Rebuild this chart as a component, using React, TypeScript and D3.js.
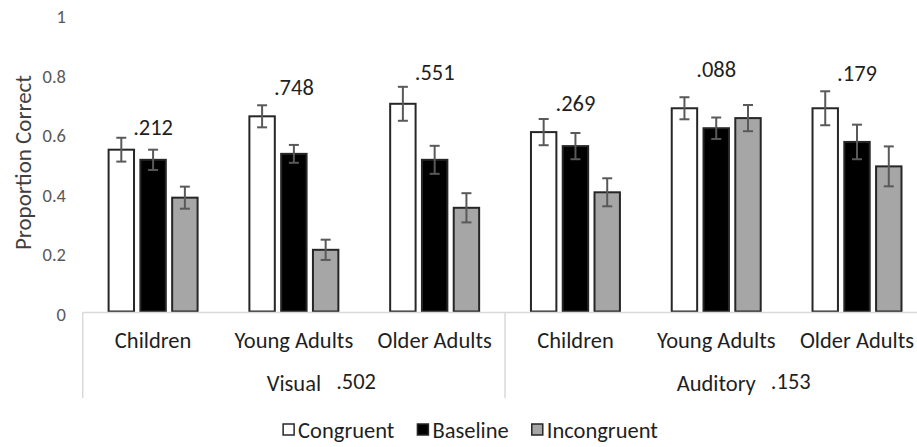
import React, { useEffect, useRef } from "react";
import * as d3 from "d3";

// Age groups within each modality, left to right
const ageGroups = ["Children", "Young Adults", "Older Adults"];
const modalities = ["Visual", "Auditory"];
const modalityP = [".502", ".153"];

// Condition means per group (Visual: C, YA, OA, then Auditory: C, YA, OA)
const congruent = [0.543, 0.655, 0.697, 0.602, 0.682, 0.682];
const baseline = [0.509, 0.529, 0.509, 0.555, 0.615, 0.569];
const incongruent = [0.382, 0.207, 0.348, 0.4, 0.649, 0.487];

// Standard errors
const congruentErr = [0.04, 0.037, 0.057, 0.044, 0.037, 0.057];
const baselineErr = [0.034, 0.03, 0.047, 0.044, 0.036, 0.058];
const incongruentErr = [0.037, 0.034, 0.049, 0.047, 0.044, 0.067];

// p-values shown above each group, and the proportion level they sit at
const groupP = [".212", ".748", ".551", ".269", ".088", ".179"];
const groupPLevel = [0.617, 0.752, 0.802, 0.698, 0.812, 0.799];

const conditions = ["Congruent", "Baseline", "Incongruent"];
const yTicks = [0, 0.2, 0.4, 0.6, 0.8, 1];

const W = 917;
const H = 447;
const FONT = "Carlito, Calibri, Lato, sans-serif";
const TEXT = "#1f1f1f";
const FS = 22.5;

export default function App() {
  const ref = useRef<SVGSVGElement | null>(null);

  useEffect(() => {
    const svg = d3.select(ref.current);
    svg.selectAll("*").remove();

    const means = [congruent, baseline, incongruent];
    const errs = [congruentErr, baselineErr, incongruentErr];
    const fills = ["#ffffff", "#000000", "#a6a6a6"];

    const groups = modalities.flatMap((m) => ageGroups.map((a) => `${m}|${a}`));

    const plotLeft = 82.7;
    const plotRight = 927.4;
    const y0 = 311.5;
    const y1 = 13.5;

    const y = d3.scaleLinear().domain([0, 1]).range([y0, y1]);
    const x0 = d3
      .scaleBand<string>()
      .domain(groups)
      .range([plotLeft, plotRight])
      .paddingInner(0.368)
      .paddingOuter(0.184);
    const x1 = d3
      .scaleBand<string>()
      .domain(conditions)
      .range([0, x0.bandwidth()])
      .paddingInner(0.2)
      .paddingOuter(0);

    // Y tick labels (no gridlines)
    svg
      .append("g")
      .selectAll("text")
      .data(yTicks)
      .join("text")
      .attr("x", 66)
      .attr("y", (d) => y(d) + 3)
      .attr("text-anchor", "end")
      .attr("dominant-baseline", "central")
      .attr("font-family", FONT)
      .attr("font-size", 18.5)
      .attr("fill", "#595959")
      .text((d) => (d === 0 || d === 1 ? String(d) : d.toFixed(1)));

    // Y-axis title
    svg
      .append("text")
      .attr("transform", `translate(23,${(y0 + y1) / 2}) rotate(-90)`)
      .attr("text-anchor", "middle")
      .attr("dominant-baseline", "central")
      .attr("font-family", FONT)
      .attr("font-size", 23)
      .attr("fill", "#404040")
      .text("Proportion Correct");

    // Bars
    const gGroups = svg
      .append("g")
      .selectAll("g")
      .data(groups)
      .join("g")
      .attr("transform", (g) => `translate(${x0(g)},0)`);

    gGroups.each(function (_, gi) {
      const g = d3.select(this);
      conditions.forEach((c, ci) => {
        const v = means[ci][gi];
        g.append("rect")
          .attr("x", x1(c)!)
          .attr("y", y(v))
          .attr("width", x1.bandwidth())
          .attr("height", y0 - y(v))
          .attr("fill", fills[ci])
          .attr("stroke", "#262626")
          .attr("stroke-width", 2);
      });
      conditions.forEach((c, ci) => {
        const v = means[ci][gi];
        const e = errs[ci][gi];
        const cx = x1(c)! + x1.bandwidth() / 2;
        const eb = g.append("g").attr("stroke", "#595959").attr("stroke-width", 2);
        eb.append("line").attr("x1", cx).attr("x2", cx).attr("y1", y(v + e)).attr("y2", y(v - e));
        eb.append("line").attr("x1", cx - 5).attr("x2", cx + 5).attr("y1", y(v + e)).attr("y2", y(v + e));
        eb.append("line").attr("x1", cx - 5).attr("x2", cx + 5).attr("y1", y(v - e)).attr("y2", y(v - e));
      });
      g.append("text")
        .attr("x", x0.bandwidth() / 2)
        .attr("y", y(groupPLevel[gi]))
        .attr("text-anchor", "middle")
        .attr("dominant-baseline", "central")
        .attr("font-family", FONT)
        .attr("font-size", FS)
        .attr("fill", TEXT)
        .text(groupP[gi]);
    });

    // Category axis line and modality dividers
    const axis = svg.append("g").attr("stroke", "#d9d9d9").attr("stroke-width", 1.5);
    axis.append("line").attr("x1", plotLeft).attr("x2", plotRight).attr("y1", 312.5).attr("y2", 312.5);
    const step3 = x0.step() * ageGroups.length;
    [0, 1, 2].forEach((i) => {
      const xx = plotLeft + i * step3;
      axis.append("line").attr("x1", xx).attr("x2", xx).attr("y1", 312.5).attr("y2", 398);
    });

    // Age-group labels
    svg
      .append("g")
      .selectAll("text")
      .data(groups)
      .join("text")
      .attr("x", (g) => x0(g)! + x0.bandwidth() / 2)
      .attr("y", 340)
      .attr("text-anchor", "middle")
      .attr("dominant-baseline", "central")
      .attr("font-family", FONT)
      .attr("font-size", FS)
      .attr("fill", TEXT)
      .text((g) => g.split("|")[1]);

    // Modality labels with their p-values
    modalities.forEach((m, mi) => {
      const cx = plotLeft + (mi + 0.5) * step3;
      const t = svg
        .append("text")
        .attr("x", cx)
        .attr("y", 383)
        .attr("text-anchor", "middle")
        .attr("dominant-baseline", "central")
        .attr("font-family", FONT)
        .attr("font-size", FS)
        .attr("fill", TEXT)
        .text(m);
      const w = (t.node() as SVGTextElement).getComputedTextLength();
      svg
        .append("text")
        .attr("x", cx + w / 2 + 15)
        .attr("y", 381)
        .attr("dominant-baseline", "central")
        .attr("font-family", FONT)
        .attr("font-size", FS)
        .attr("fill", TEXT)
        .text(modalityP[mi]);
    });

    // Legend
    const legend = svg.append("g");
    let lx = 0;
    conditions.forEach((c, ci) => {
      legend
        .append("rect")
        .attr("x", lx + 1)
        .attr("y", 430 - 6)
        .attr("width", 11)
        .attr("height", 11)
        .attr("fill", fills[ci])
        .attr("stroke", "#262626")
        .attr("stroke-width", 1.5);
      const t = legend
        .append("text")
        .attr("x", lx + 16)
        .attr("y", 430)
        .attr("dominant-baseline", "central")
        .attr("font-family", FONT)
        .attr("font-size", FS)
        .attr("fill", TEXT)
        .text(c);
      lx += 16 + (t.node() as SVGTextElement).getComputedTextLength() + 22;
    });
    const legendW = lx - 22;
    legend.attr("transform", `translate(${470 - legendW / 2},0)`);
  }, []);

  return (
    <svg
      ref={ref}
      width={W}
      height={H}
      style={{ position: "absolute", left: 0, top: 0, background: "#fff" }}
    />
  );
}
